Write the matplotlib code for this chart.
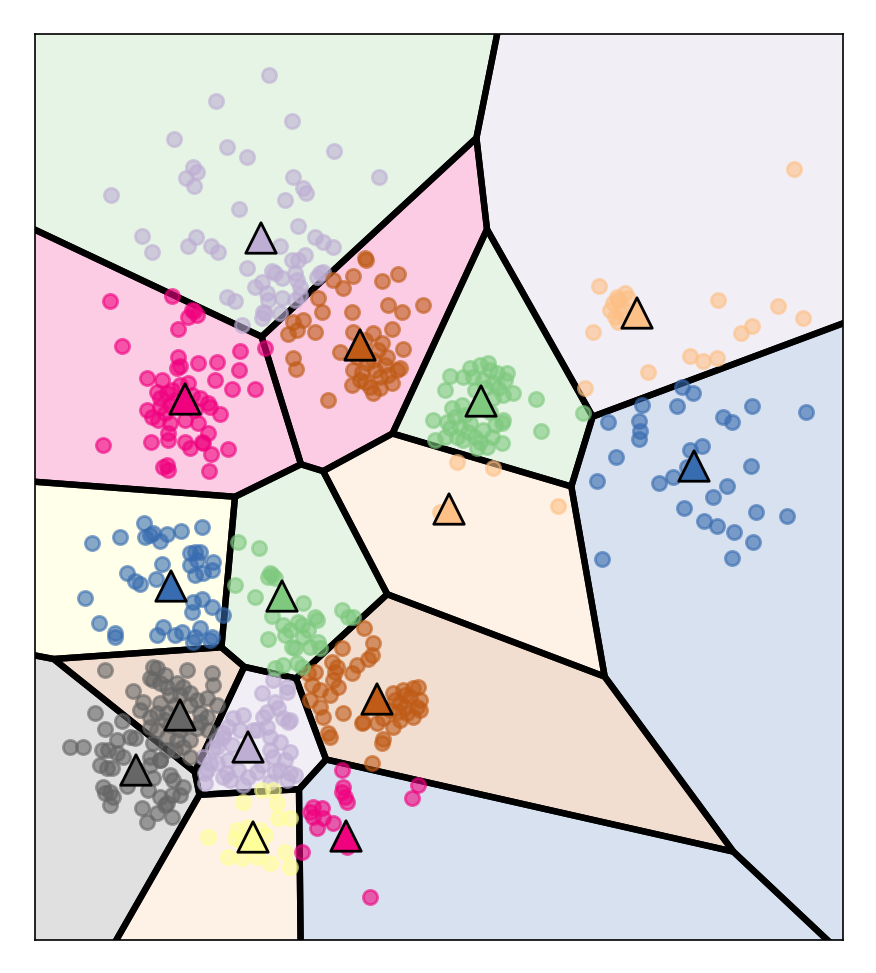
import numpy as np
import matplotlib
matplotlib.use("Agg")
import matplotlib.pyplot as plt
from matplotlib.patches import Polygon
from matplotlib.colors import to_rgba

# Accent palette
GREEN, LAVENDER, ORANGE, YELLOW = "#7fc97f", "#beaed4", "#fdc086", "#ffff99"
BLUE, PINK, BROWN, GRAY = "#386cb0", "#f0027f", "#bf5b17", "#666666"

# cluster centres (x, y), y grows downward
centers = [(261, 238), (637, 313), (360, 345), (185, 399), (481, 401),
           (694, 466), (449, 509), (171, 586), (282, 596), (377, 699),
           (180, 715), (248, 747), (136, 770), (253, 837), (346, 836)]
center_colors = [LAVENDER, ORANGE, BROWN, PINK, GREEN,
                 BLUE, ORANGE, BLUE, GREEN, BROWN,
                 GRAY, LAVENDER, GRAY, YELLOW, PINK]
region_colors = [GREEN, LAVENDER, PINK, PINK, GREEN,
                 BLUE, ORANGE, YELLOW, GREEN, BROWN,
                 BROWN, LAVENDER, GRAY, ORANGE, BLUE]

lavender_pts = [
    (269, 75), (216, 101), (292, 121), (174, 139), (227, 147), (247, 157), (334, 151), (379, 177),
    (193, 167), (197, 172), (186, 178), (194, 186), (111, 195), (293, 177), (303, 188), (306, 193),
    (285, 200), (239, 209), (298, 226), (142, 236), (152, 252), (196, 237), (188, 246), (211, 246),
    (218, 252), (280, 246), (315, 237), (323, 242), (333, 247), (247, 268), (292, 260), (298, 260),
    (305, 255), (272, 271), (275, 273), (282, 278), (295, 273), (297, 280), (300, 287), (320, 273),
    (317, 277), (323, 272), (255, 287), (262, 282), (267, 293), (268, 300), (282, 298), (227, 297),
    (235, 301), (295, 300), (300, 295), (263, 312), (262, 318), (265, 313), (242, 325), (280, 313),
    (273, 680), (287, 687), (287, 692), (275, 702), (278, 708), (267, 712), (263, 717), (288, 722),
    (283, 718), (243, 715), (233, 718), (228, 727), (223, 733), (217, 740), (213, 748), (267, 727),
    (270, 737), (257, 730), (280, 742), (290, 752), (270, 750), (273, 757), (203, 757), (210, 763),
    (205, 773), (205, 783), (227, 773), (230, 780), (248, 777), (257, 772), (243, 785), (275, 772),
    (280, 770), (290, 773), (295, 775), (287, 780), (270, 782), (240, 730), (253, 730), (290, 720),
    (207, 770), (217, 763), (223, 777), (217, 747), (223, 737), (262, 693), (232, 745), (228, 760),
    (262, 765), (285, 760), (238, 770)]

orange_pts = [
    (794, 169), (599, 286), (625, 293), (617, 297), (613, 303), (610, 310), (615, 317), (618, 322),
    (622, 307), (618, 300), (628, 298), (620, 312), (593, 332), (718, 300), (778, 306), (803, 318),
    (752, 326), (741, 333), (690, 356), (703, 361), (717, 358), (648, 372), (585, 388),
    (457, 462), (493, 468), (558, 506), (440, 512)]

pink_pts = [
    (110, 301), (172, 296), (194, 311), (188, 317), (197, 315), (192, 310), (178, 329), (122, 346),
    (240, 351), (265, 348), (178, 357), (180, 366), (177, 368), (198, 363), (217, 362), (239, 370),
    (147, 378), (162, 380), (215, 380), (232, 389), (255, 389), (188, 383), (157, 392), (167, 393),
    (172, 390), (147, 410), (152, 417), (160, 407), (165, 413), (200, 398), (208, 403), (210, 407),
    (220, 414), (170, 423), (168, 433), (168, 440), (198, 423), (208, 433), (202, 442), (203, 443),
    (151, 442), (185, 442), (190, 448), (228, 449), (211, 454), (103, 445), (167, 465), (168, 470),
    (163, 467), (209, 471), (175, 400), (180, 385), (192, 395), (160, 398), (170, 405), (158, 420),
    (195, 410), (185, 420),
    (342, 770), (343, 787), (342, 792), (345, 797), (347, 802), (418, 785), (412, 798), (313, 807),
    (310, 812), (322, 808), (313, 817), (323, 818), (333, 823), (317, 828), (302, 852), (347, 847),
    (370, 897)]

brown_pts = [
    (365, 258), (366, 260), (333, 280), (343, 288), (353, 276), (382, 281), (398, 274), (318, 298),
    (322, 312), (352, 312), (388, 305), (402, 312), (423, 305), (293, 322), (303, 320), (297, 330),
    (288, 334), (315, 332), (353, 332), (392, 329), (340, 352), (293, 358), (296, 369), (403, 349),
    (373, 333), (382, 343), (387, 357), (397, 370), (400, 368), (353, 370), (360, 380), (370, 387),
    (373, 393), (352, 385), (380, 377), (367, 363), (392, 383), (373, 360), (357, 357), (328, 400),
    (365, 340), (378, 350), (385, 365), (362, 372), (375, 370), (388, 375), (365, 382), (380, 388),
    (364, 628), (373, 643), (372, 655), (368, 659), (342, 648), (332, 662), (337, 667), (335, 672),
    (357, 665), (352, 673), (308, 673), (315, 672), (312, 685), (320, 690), (333, 680), (338, 687),
    (330, 695), (310, 700), (320, 707), (323, 717), (343, 713), (363, 722), (377, 723), (383, 718),
    (328, 733), (383, 739), (393, 693), (403, 690), (413, 688), (418, 687), (420, 700), (417, 707),
    (407, 713), (400, 720), (393, 727), (410, 697), (400, 703), (390, 710), (413, 717), (420, 710),
    (330, 737), (382, 743), (372, 763), (362, 723), (405, 695), (395, 700), (405, 707), (398, 712)]

green_pts = [
    (450, 376), (445, 390), (470, 368), (480, 365), (488, 363), (490, 370), (497, 373), (507, 373),
    (505, 380), (493, 383), (483, 380), (473, 377), (463, 377), (513, 393), (536, 399), (541, 431),
    (583, 413), (452, 408), (462, 405), (455, 417), (465, 415), (447, 422), (450, 428), (460, 427),
    (470, 423), (457, 437), (463, 440), (433, 420), (435, 440), (445, 437), (475, 437), (480, 442),
    (487, 447), (492, 437), (502, 423), (503, 420), (495, 425), (483, 430), (477, 448), (502, 443),
    (493, 398), (503, 395), (490, 412), (475, 390), (485, 388), (498, 388), (468, 432),
    (238, 542), (259, 548), (272, 575), (270, 573), (275, 578), (268, 577), (235, 585), (255, 597),
    (303, 603), (272, 616), (315, 617), (317, 620), (342, 610), (348, 617), (353, 617), (283, 625),
    (298, 622), (302, 625), (268, 639), (285, 635), (303, 637), (292, 647), (295, 648), (310, 647),
    (318, 642), (320, 648), (275, 668), (283, 665), (297, 663), (302, 667), (290, 630), (308, 630)]

blue_pts = [
    (682, 387), (693, 393), (642, 405), (677, 406), (752, 406), (806, 412), (608, 422), (639, 421),
    (640, 431), (639, 439), (723, 417), (732, 422), (616, 457), (690, 450), (702, 446), (751, 466),
    (597, 481), (659, 483), (673, 477), (687, 467), (727, 486), (713, 497), (684, 508), (756, 512),
    (787, 516), (704, 521), (717, 526), (734, 532), (753, 542), (602, 559), (732, 558),
    (144, 523), (145, 537), (150, 535), (153, 533), (167, 534), (160, 541), (181, 531), (202, 527),
    (92, 543), (120, 537), (190, 553), (195, 552), (200, 552), (190, 565), (197, 560), (213, 562),
    (212, 570), (203, 573), (195, 575), (162, 564), (127, 573), (135, 581), (140, 584), (156, 579),
    (85, 598), (193, 602), (202, 599), (212, 607), (192, 612), (223, 615), (99, 623), (115, 633),
    (115, 637), (163, 627), (157, 635), (175, 635), (182, 632), (200, 628), (195, 637), (193, 642),
    (212, 637), (210, 640)]

gray_pts = [
    (105, 670), (153, 667), (157, 668), (150, 678), (153, 680), (165, 675), (187, 670), (212, 673),
    (213, 685), (133, 691), (160, 683), (167, 687), (177, 683), (183, 687), (170, 695), (180, 695),
    (190, 693), (143, 702), (140, 710), (150, 717), (160, 703), (157, 713), (167, 713), (150, 727),
    (157, 730), (197, 700), (207, 698), (217, 705), (200, 713), (207, 717), (197, 728), (208, 730),
    (153, 743), (167, 737), (177, 740), (183, 747), (190, 757), (167, 750), (160, 760), (175, 705),
    (185, 725), (170, 725), (180, 730), (165, 720), (190, 740), (175, 750), (190, 705), (200, 722),
    (95, 713), (122, 721), (105, 729), (70, 747), (83, 747), (117, 740), (130, 737), (135, 738),
    (102, 750), (108, 750), (117, 753), (123, 757), (100, 765), (107, 768), (112, 768), (150, 757),
    (160, 760), (150, 765), (170, 775), (173, 780), (183, 787), (153, 778), (103, 787), (105, 793),
    (110, 792), (113, 797), (127, 786), (148, 790), (160, 797), (167, 803), (172, 795), (180, 795),
    (110, 805), (142, 808), (157, 813), (147, 822), (165, 805), (172, 817)]

yellow_pts = [
    (262, 790), (273, 790), (277, 803), (243, 802), (290, 818), (278, 818), (208, 837), (237, 830),
    (248, 827), (260, 830), (265, 835), (235, 838), (242, 843), (228, 857), (242, 858), (257, 857),
    (270, 863), (285, 852), (290, 867), (260, 847), (250, 845)]

point_groups = [(lavender_pts, LAVENDER), (orange_pts, ORANGE), (pink_pts, PINK),
                (brown_pts, BROWN), (green_pts, GREEN), (blue_pts, BLUE),
                (gray_pts, GRAY), (yellow_pts, YELLOW)]

x_range = (35, 843)
y_range = (940, 34)


def clip_halfplane(poly, a, b, c):
    # keep the part of poly with a*x + b*y <= c
    out = []
    n = len(poly)
    for k in range(n):
        p, q = poly[k], poly[(k + 1) % n]
        fp = a * p[0] + b * p[1] - c
        fq = a * q[0] + b * q[1] - c
        if fp <= 0:
            out.append(p)
        if fp * fq < 0:
            t = fp / (fp - fq)
            out.append(p + t * (q - p))
    return out


def voronoi_cells(sites, big=3000):
    sites = np.asarray(sites, dtype=float)
    box = [np.array(v, dtype=float) for v in
           [(-big, -big), (big, -big), (big, big), (-big, big)]]
    cells = []
    for i, si in enumerate(sites):
        poly = box
        for j, sj in enumerate(sites):
            if i == j:
                continue
            d = sj - si
            m = (si + sj) / 2
            poly = clip_halfplane(poly, d[0], d[1], d @ m)
        cells.append(np.array(poly))
    return cells


fig = plt.figure(figsize=(8.76, 9.73), dpi=100)
ax = fig.add_axes([35 / 876, 33 / 973, 808 / 876, 906 / 973])

for cell, col in zip(voronoi_cells(centers), region_colors):
    ax.add_patch(Polygon(cell, closed=True, facecolor=to_rgba(col, 0.2),
                         edgecolor="black", linewidth=4.6, zorder=1))

for pts, col in point_groups:
    arr = np.array(pts)
    ax.scatter(arr[:, 0], arr[:, 1], s=105, color=col, alpha=0.6,
               edgecolors=col, linewidths=2, zorder=3)

c = np.array(centers)
ax.scatter(c[:, 0], c[:, 1], marker="^", s=480, c=center_colors,
           edgecolors="black", linewidths=2, zorder=5)

ax.set_xlim(*x_range)
ax.set_ylim(*y_range)
ax.set_xticks([])
ax.set_yticks([])
for sp in ax.spines.values():
    sp.set_linewidth(1.2)

fig.savefig("out.png", dpi=100)
